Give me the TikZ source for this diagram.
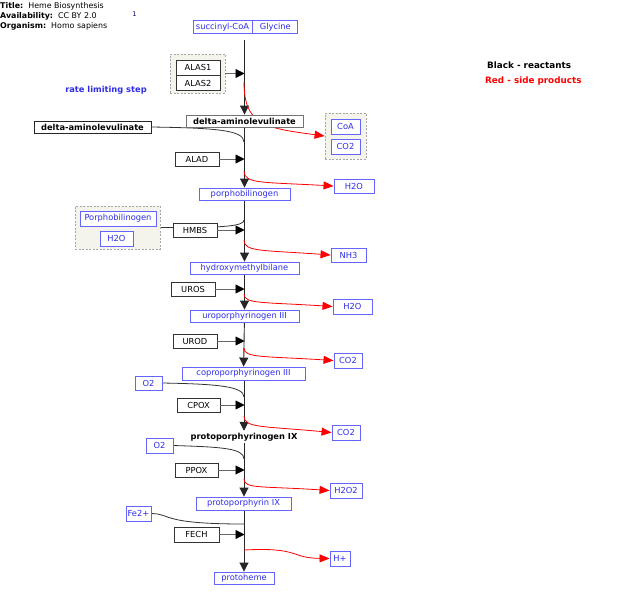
\documentclass[tikz,border=0pt]{standalone}
\usepackage{fontspec}
\setmainfont{DejaVu Sans}
\usetikzlibrary{arrows.meta,positioning,backgrounds}

\definecolor{gpmlblue}{RGB}{45,45,235}
\definecolor{gpmlframe}{RGB}{100,100,255}
\definecolor{groupfill}{RGB}{244,243,236}

\begin{document}
\begin{tikzpicture}[
    x=1pt, y=-1pt,
    font=\fontsize{8.3}{10}\selectfont,
    metab/.style={draw=gpmlframe, fill=white, text=gpmlblue, line width=0.9pt, inner sep=0pt, minimum height=13pt},
    enzyme/.style={draw=black!80, fill=white, line width=0.9pt, inner sep=0pt, minimum width=44pt, minimum height=14pt},
    hub/.style={draw=black!55, fill=white, line width=0.9pt, inner sep=0pt, minimum height=12pt, font=\fontsize{8.3}{10}\selectfont\bfseries},
    group/.style={draw=black!35, dash pattern=on 2pt off 1.5pt, fill=groupfill, line width=0.8pt},
    conv/.style={-{Triangle[width=9pt,length=9pt]}, line width=0.9pt, black!85},
    catal/.style={-{Triangle[width=9pt,length=9pt,color=black]}, line width=0.9pt, black!60},
    reactant/.style={line width=0.8pt, black!80},
    byproduct/.style={-{Triangle[width=8pt,length=10pt]}, line width=0.8pt, red},
]
\useasboundingbox (0,0) rectangle (643,595);

% header and legend
\node[anchor=north west, align=left, inner sep=0pt, font=\fontsize{7.9}{10}\selectfont] (title) at (0,2.5)
    {\textbf{Title:}\ \ Heme Biosynthesis\\ \textbf{Availability:}\ \ CC BY 2.0\\ \textbf{Organism:}\ \ Homo sapiens};
\node[inner sep=0pt, font=\fontsize{6.5}{7}\selectfont, text=blue!40!black] (cite) at (134.5,14.5) {1};
\node[anchor=west, inner sep=0pt, font=\fontsize{8.8}{10}\selectfont\bfseries] (legblack) at (487,65) {Black - reactants};
\node[anchor=west, inner sep=0pt, font=\fontsize{8.8}{10}\selectfont\bfseries, text=red] (legred) at (485,81) {Red - side products};
\node[inner sep=0pt, font=\fontsize{8.3}{10}\selectfont\bfseries, text=gpmlblue] (ratelim) at (106,90) {rate limiting step};

% groups
\node[group, minimum width=55pt, minimum height=39pt] (alasgrp) at (197.5,73.5) {};
\node[group, minimum width=41pt, minimum height=46pt] (coagrp) at (345.5,136) {};
\node[group, minimum width=85pt, minimum height=43pt] (pbggrp) at (117.5,227.5) {};

% main chain
\node[metab, minimum width=59pt] (succ) at (222.5,27) {succinyl-CoA};
\node[metab, minimum width=45pt, right=0pt of succ] (gly) {Glycine};
\node[hub, minimum width=117pt] (dal) at (244.5,121) {delta-aminolevulinate};
\node[hub, draw=black!85, minimum width=117pt, minimum height=12pt] (dalside) at (92.5,127) {delta-aminolevulinate};
\node[metab, minimum width=91pt, minimum height=12pt] (pbg) at (244.5,194) {porphobilinogen};
\node[metab, minimum width=109pt, minimum height=12pt] (hmb) at (244.5,268) {hydroxymethylbilane};
\node[metab, minimum width=109pt, minimum height=12pt] (uro) at (244.5,316) {uroporphyrinogen III};
\node[metab, minimum width=123pt] (copro) at (243.5,373.5) {coproporphyrinogen III};
\node[inner sep=2pt, font=\fontsize{8.3}{10}\selectfont\bfseries] (protogen) at (244,437) {protoporphyrinogen IX};
\node[metab, minimum width=95pt] (protoix) at (243.5,503.5) {protoporphyrin IX};
\node[metab, minimum width=60pt, minimum height=12pt] (heme) at (244,578) {protoheme};

% enzymes
\node[enzyme, minimum height=15pt] (alas1) at (198,67.5) {ALAS1};
\node[enzyme, minimum height=15pt, below=0pt of alas1] (alas2) {ALAS2};
\node[enzyme] (alad) at (197,159) {ALAD};
\node[enzyme] (hmbs) at (195,230) {HMBS};
\node[enzyme] (uros) at (193,289) {UROS};
\node[enzyme] (urod) at (195,341) {UROD};
\node[enzyme, minimum width=43pt] (cpox) at (198.5,405) {CPOX};
\node[enzyme, minimum width=43pt] (ppox) at (196.5,470) {PPOX};
\node[enzyme, minimum width=45pt, minimum height=15pt] (fech) at (196.5,534.5) {FECH};

% side reactants
\node[metab, minimum width=76pt, minimum height=15pt] (pbgin) at (118,218.5) {Porphobilinogen};
\node[metab, minimum width=33pt, minimum height=15pt] (h2oin) at (116.5,238.5) {H2O};
\node[metab, minimum width=27pt, minimum height=14pt] (o2a) at (148.5,383) {O2};
\node[metab, minimum width=27pt, minimum height=15pt] (o2b) at (159.5,445.5) {O2};
\node[metab, minimum width=25pt, minimum height=15pt] (fe) at (138.5,513.5) {Fe2+};

% side products
\node[metab, minimum width=29pt, minimum height=15pt] (coa) at (345.5,126.5) {CoA};
\node[metab, minimum width=29pt, minimum height=15pt] (co2a) at (345.5,146.5) {CO2};
\node[metab, minimum width=40pt, minimum height=14pt] (h2oa) at (354,186) {H2O};
\node[metab, minimum width=35pt, minimum height=14pt] (nh3) at (348.5,255) {NH3};
\node[metab, minimum width=39pt, minimum height=15pt] (h2ob) at (352.5,306.5) {H2O};
\node[metab, minimum width=28pt, minimum height=15pt] (co2b) at (348,360.5) {CO2};
\node[metab, minimum width=28pt, minimum height=15pt] (co2c) at (346,432.5) {CO2};
\node[metab, minimum width=32pt, minimum height=15pt] (h2o2) at (346,490.5) {H2O2};
\node[metab, minimum width=20pt, minimum height=15pt] (hplus) at (340,558.5) {H+};

% branch points on the main line
\coordinate (b1) at (244,82);
\coordinate (b2) at (244,171);
\coordinate (b3) at (244,240);
\coordinate (b4) at (244,294);
\coordinate (b5) at (244,348);
\coordinate (b6) at (244,416);
\coordinate (b7) at (244,479);
\coordinate (b8) at (244,550);

\begin{scope}[on background layer]
% conversions
\draw[conv, shorten <=6pt] (succ.south -| dal) -- (dal);
\draw[conv] (dal) -- (pbg);
\draw[conv] (pbg) -- (hmb);
\draw[conv] (hmb) -- (uro);
\draw[conv] (uro) -- (copro);
\draw[conv] (copro.south -| protogen) -- (protogen);
\draw[conv] (protogen) -- (protoix.north -| protogen);
\draw[conv] (protoix.south -| heme) -- (heme);

% side reactants joining
\draw[reactant] (dalside.east) .. controls (215,128) and (244,130) .. (244,142);
\draw[reactant] (pbggrp.east) .. controls (225,228) and (244,226) .. (244,220);
\draw[reactant] (o2a.east) .. controls (215,384) and (244,386) .. (244,397);
\draw[reactant] (o2b.east) .. controls (220,447) and (244,448) .. (244,459);
\draw[reactant] (fe.east) .. controls (172,514) and (160,524) .. (244,524);

% side products leaving
\draw[byproduct] (b1) .. controls (244,125) and (265,128) .. (coagrp.west);
\draw[byproduct] (b2) .. controls (244,184) and (262,182) .. (h2oa.west);
\draw[byproduct] (b3) .. controls (244,252) and (262,250) .. (nh3.west);
\draw[byproduct] (b4) .. controls (244,304) and (262,302) .. (h2ob.west);
\draw[byproduct] (b5) .. controls (244,358) and (262,356) .. (co2b.west);
\draw[byproduct] (b6) .. controls (244,428) and (262,426) .. (co2c.west);
\draw[byproduct] (b7) .. controls (244,489) and (262,486) .. (h2o2.west);
\draw[byproduct] (b8) .. controls (300,547) and (290,558) .. (hplus.west);
\end{scope}

% catalysis
\draw[catal] (alasgrp.east) -- (alasgrp.east -| dal);
\draw[catal] (alad.east) -- (alad.east -| dal);
\draw[catal] (hmbs.east) -- (hmbs.east -| dal);
\draw[catal] (uros.east) -- (uros.east -| dal);
\draw[catal] (urod.east) -- (urod.east -| dal);
\draw[catal] (cpox.east) -- (cpox.east -| dal);
\draw[catal] (ppox.east) -- (ppox.east -| dal);
\draw[catal] (fech.east) -- (fech.east -| dal);
\end{tikzpicture}
\end{document}
